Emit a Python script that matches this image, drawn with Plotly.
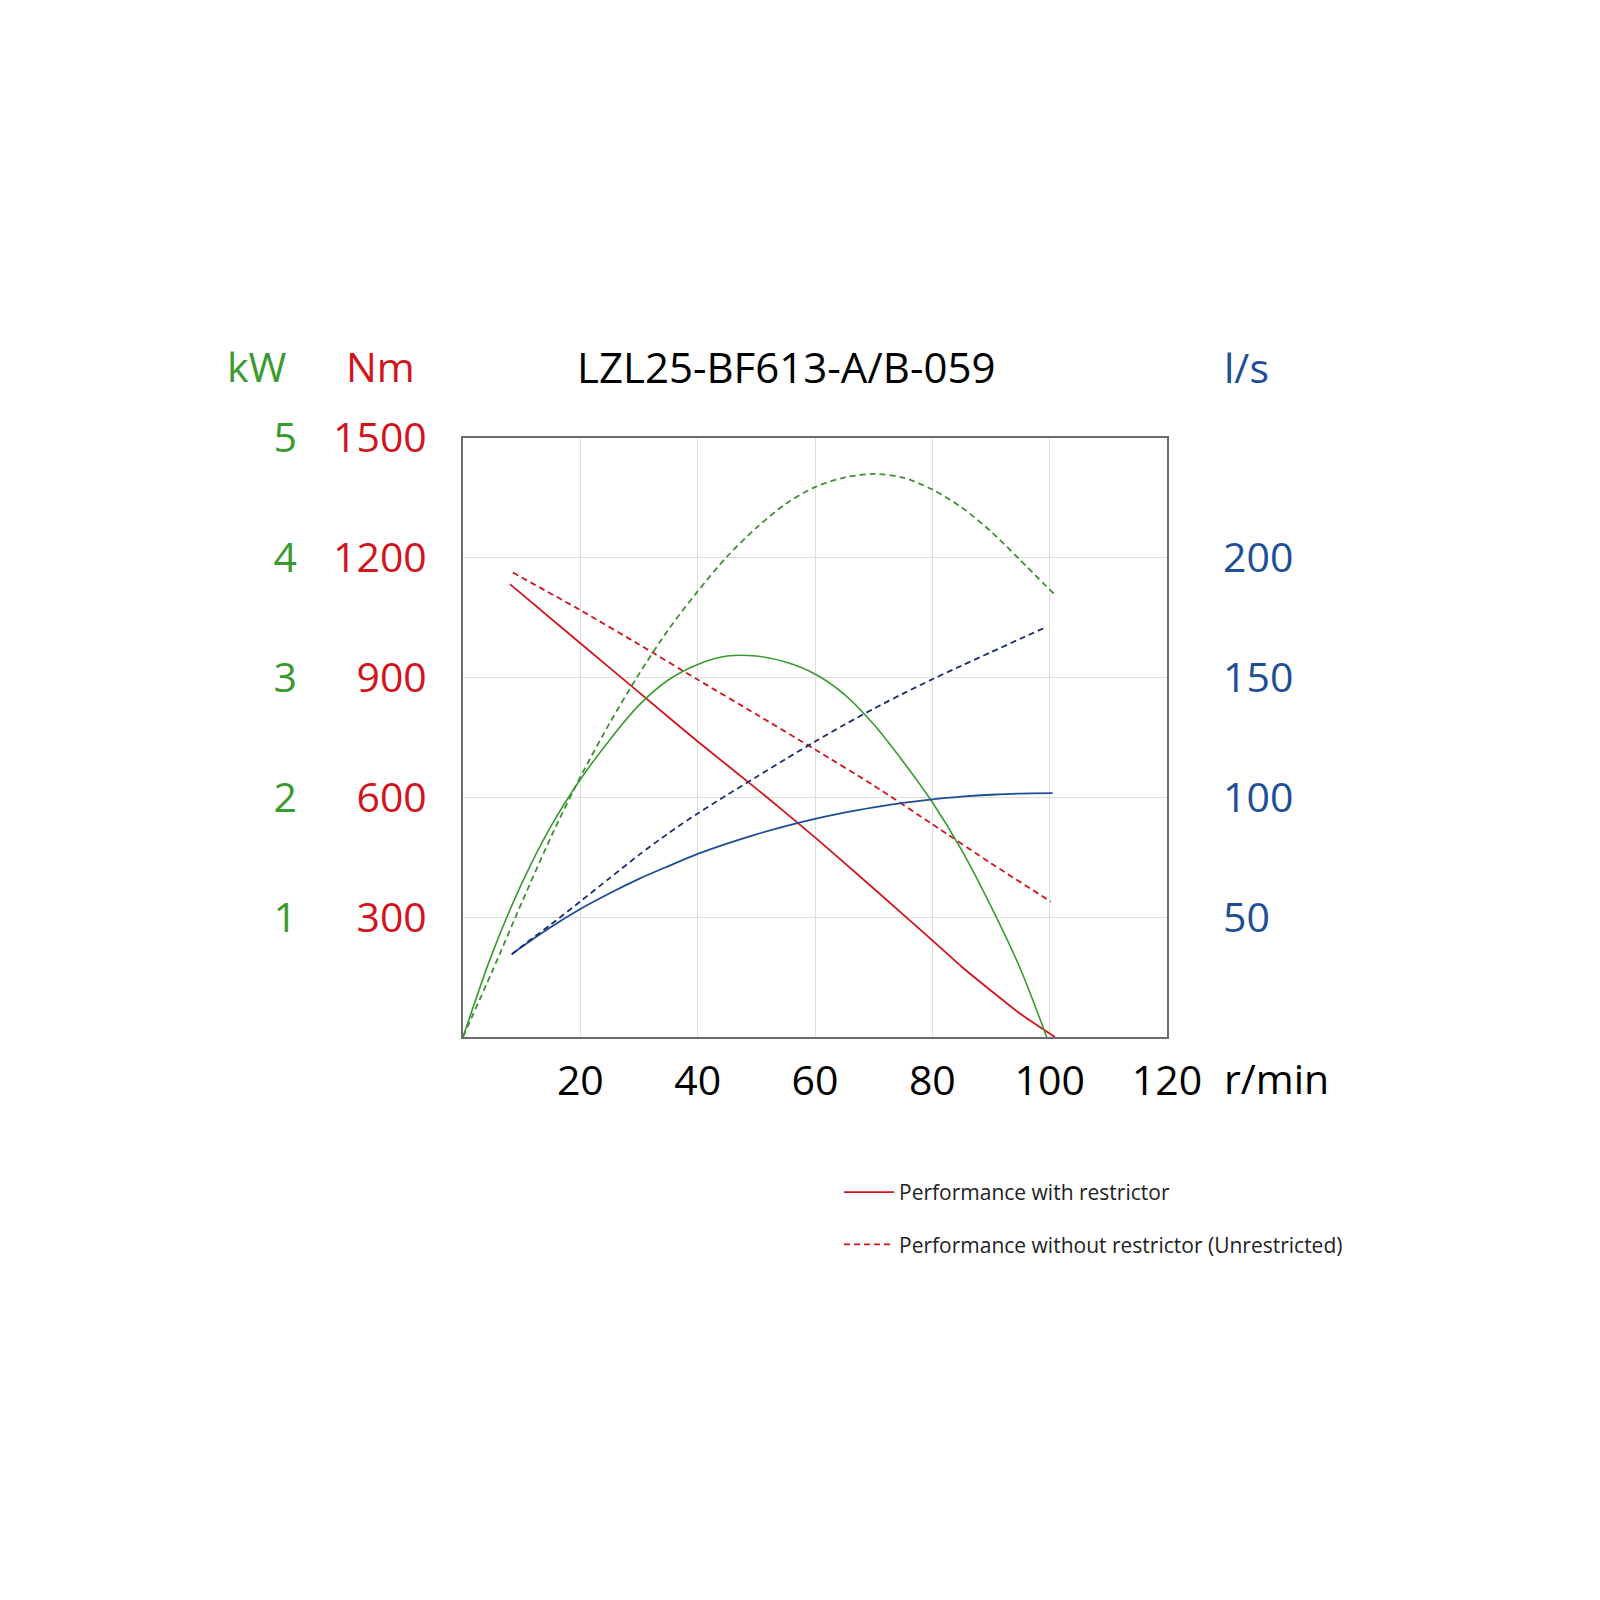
import plotly.graph_objects as go

# ---- data ----
torque_r_x = [8, 20, 30, 40, 50, 60, 70, 80, 85, 90, 95, 100.9]
torque_r_y = [1134, 986, 863, 740, 622, 500, 372, 242, 176, 116, 58, 0]

torque_u_x = [8.5, 20, 30, 40, 50, 60, 70, 80, 90, 100.2]
torque_u_y = [1163, 1069, 983, 895, 808, 720, 630, 533, 435, 339]

power_r_x = [0, 5, 10, 15, 20, 25, 30, 35, 40, 45, 50, 55, 60, 65, 70, 75, 80, 85, 90, 95, 99.5]
power_r_y = [0, 0.70, 1.28, 1.76, 2.15, 2.48, 2.77, 2.98, 3.11, 3.18, 3.18, 3.13, 3.03, 2.86, 2.61, 2.30, 1.96, 1.56, 1.09, 0.57, 0]

power_u_x = [0, 5, 10, 15, 20, 25, 30, 35, 40, 45, 50, 55, 60, 65, 70, 75, 80, 85, 90, 95, 100.7]
power_u_y = [0, 0.55, 1.12, 1.67, 2.17, 2.62, 3.03, 3.40, 3.72, 4.01, 4.25, 4.45, 4.59, 4.67, 4.70, 4.67, 4.57, 4.42, 4.22, 3.98, 3.70]

flow_r_x = [8.3, 10, 15, 20, 25, 30, 35, 40, 45, 50, 55, 60, 65, 70, 75, 80, 85, 90, 95, 100.5]
flow_r_y = [34.5, 37.6, 45.9, 53.4, 60.0, 66.0, 71.3, 76.4, 80.7, 84.6, 88.0, 91.0, 93.6, 95.8, 97.7, 99.2, 100.3, 101.1, 101.6, 101.8]

flow_u_x = [8.3, 10, 15, 20, 25, 30, 35, 40, 45, 50, 55, 60, 65, 70, 75, 80, 85, 90, 95, 99.5]
flow_u_y = [34.5, 37.8, 47.0, 56.6, 66.3, 76.0, 85.0, 93.3, 101.0, 108.5, 116.0, 123.3, 130.3, 137.0, 143.3, 149.3, 155.0, 160.6, 166.2, 171.2]

x_ticks = [20, 40, 60, 80, 100, 120]
nm_ticks = [300, 600, 900, 1200, 1500]
kw_ticks = [1, 2, 3, 4, 5]
ls_ticks = [50, 100, 150, 200]

title_text = "LZL25-BF613-A/B-059"
legend_names = ["Performance with restrictor", "Performance without restrictor (Unrestricted)"]

# ---- styling ----
RED = "#d2141c"
GREEN = "#3a9a30"
GREEN_D = "#3b912e"
BLUE = "#1d4e96"
NAVY = "#1b2f6e"
FONT = "Open Sans"
FS = 41

fig = go.Figure()

fig.add_trace(go.Scatter(x=torque_r_x, y=torque_r_y, mode="lines", name=legend_names[0],
                         line=dict(color=RED, width=1.8, shape="spline", smoothing=0.6),
                         legendgroup="a", showlegend=True, yaxis="y"))
fig.add_trace(go.Scatter(x=torque_u_x, y=torque_u_y, mode="lines", name=legend_names[1],
                         line=dict(color=RED, width=1.8, dash="6px,4px", shape="spline", smoothing=0.6),
                         legendgroup="b", showlegend=True, yaxis="y"))
fig.add_trace(go.Scatter(x=power_r_x, y=power_r_y, mode="lines", name="kW r",
                         line=dict(color=GREEN, width=1.6, shape="spline", smoothing=0.8),
                         showlegend=False, yaxis="y2"))
fig.add_trace(go.Scatter(x=power_u_x, y=power_u_y, mode="lines", name="kW u",
                         line=dict(color=GREEN_D, width=1.8, dash="6px,4px", shape="spline", smoothing=0.8),
                         showlegend=False, yaxis="y2"))
fig.add_trace(go.Scatter(x=flow_r_x, y=flow_r_y, mode="lines", name="l/s r",
                         line=dict(color=BLUE, width=1.8, shape="spline", smoothing=0.8),
                         showlegend=False, yaxis="y3"))
fig.add_trace(go.Scatter(x=flow_u_x, y=flow_u_y, mode="lines", name="l/s u",
                         line=dict(color=NAVY, width=1.8, dash="6px,4px", shape="spline", smoothing=0.8),
                         showlegend=False, yaxis="y3"))

ML, MR, MT, MB = 200, 433, 438, 563
PW = 1600 - ML - MR
def px_to_paper_x(px):
    return (px - ML) / PW
PH = 1600 - MT - MB
def px_to_paper_y(py):
    return (1600 - MB - py) / PH

fig.update_layout(
    width=1600, height=1600,
    margin=dict(l=ML, r=MR, t=MT, b=MB, pad=0),
    paper_bgcolor="white", plot_bgcolor="white",
    font=dict(family=FONT, size=FS, color="black"),
    xaxis=dict(domain=[px_to_paper_x(463), 1], range=[0, 120], tickvals=x_ticks,
               ticks="", ticklabelstandoff=7,
               showgrid=True, gridcolor="#dedede", gridwidth=1,
               showline=True, linecolor="#6b6b6b", linewidth=2, mirror=True,
               zeroline=False, tickfont=dict(size=FS, color="black")),
    yaxis=dict(range=[0, 1500], tickvals=nm_ticks, ticks="", ticklabelstandoff=26,
               showgrid=True, gridcolor="#dedede", gridwidth=1,
               showline=True, linecolor="#6b6b6b", linewidth=2, mirror=True,
               zeroline=False, tickfont=dict(size=FS, color=RED)),
    yaxis2=dict(range=[0, 5], tickvals=kw_ticks, overlaying="y", anchor="free",
                position=px_to_paper_x(327), side="left", ticks="", ticklabelstandoff=30,
                showgrid=False, showline=False, zeroline=False,
                tickfont=dict(size=FS, color=GREEN)),
    yaxis3=dict(range=[0, 250], tickvals=ls_ticks, overlaying="y", anchor="x",
                side="right", ticks="", ticklabelstandoff=55,
                showgrid=False, showline=False, zeroline=False,
                tickfont=dict(size=FS, color=BLUE)),
    legend=dict(x=px_to_paper_x(839), y=px_to_paper_y(1172), xanchor="left", yanchor="top",
                font=dict(size=21, color="#222222"), traceorder="grouped",
                itemwidth=50,
                tracegroupgap=22, bgcolor="rgba(0,0,0,0)"),
    showlegend=True,
)

annots = [
    dict(text=title_text, x=px_to_paper_x(786), y=px_to_paper_y(366), color="black", xanchor="center", size=42),
    dict(text="kW", x=px_to_paper_x(257), y=px_to_paper_y(366), color=GREEN, xanchor="center", size=FS),
    dict(text="Nm", x=px_to_paper_x(380), y=px_to_paper_y(366), color=RED, xanchor="center", size=FS),
    dict(text="l/s", x=px_to_paper_x(1222), y=px_to_paper_y(367), color=BLUE, xanchor="left", size=FS),
    dict(text="r/min", x=px_to_paper_x(1222), y=px_to_paper_y(1078), color="black", xanchor="left", size=FS),
]
for a in annots:
    fig.add_annotation(text=a["text"], x=a["x"], y=a["y"], xref="paper", yref="paper",
                       xanchor=a["xanchor"], yanchor="middle", showarrow=False,
                       font=dict(family=FONT, size=a["size"], color=a["color"]))

fig.write_html("out.html")
